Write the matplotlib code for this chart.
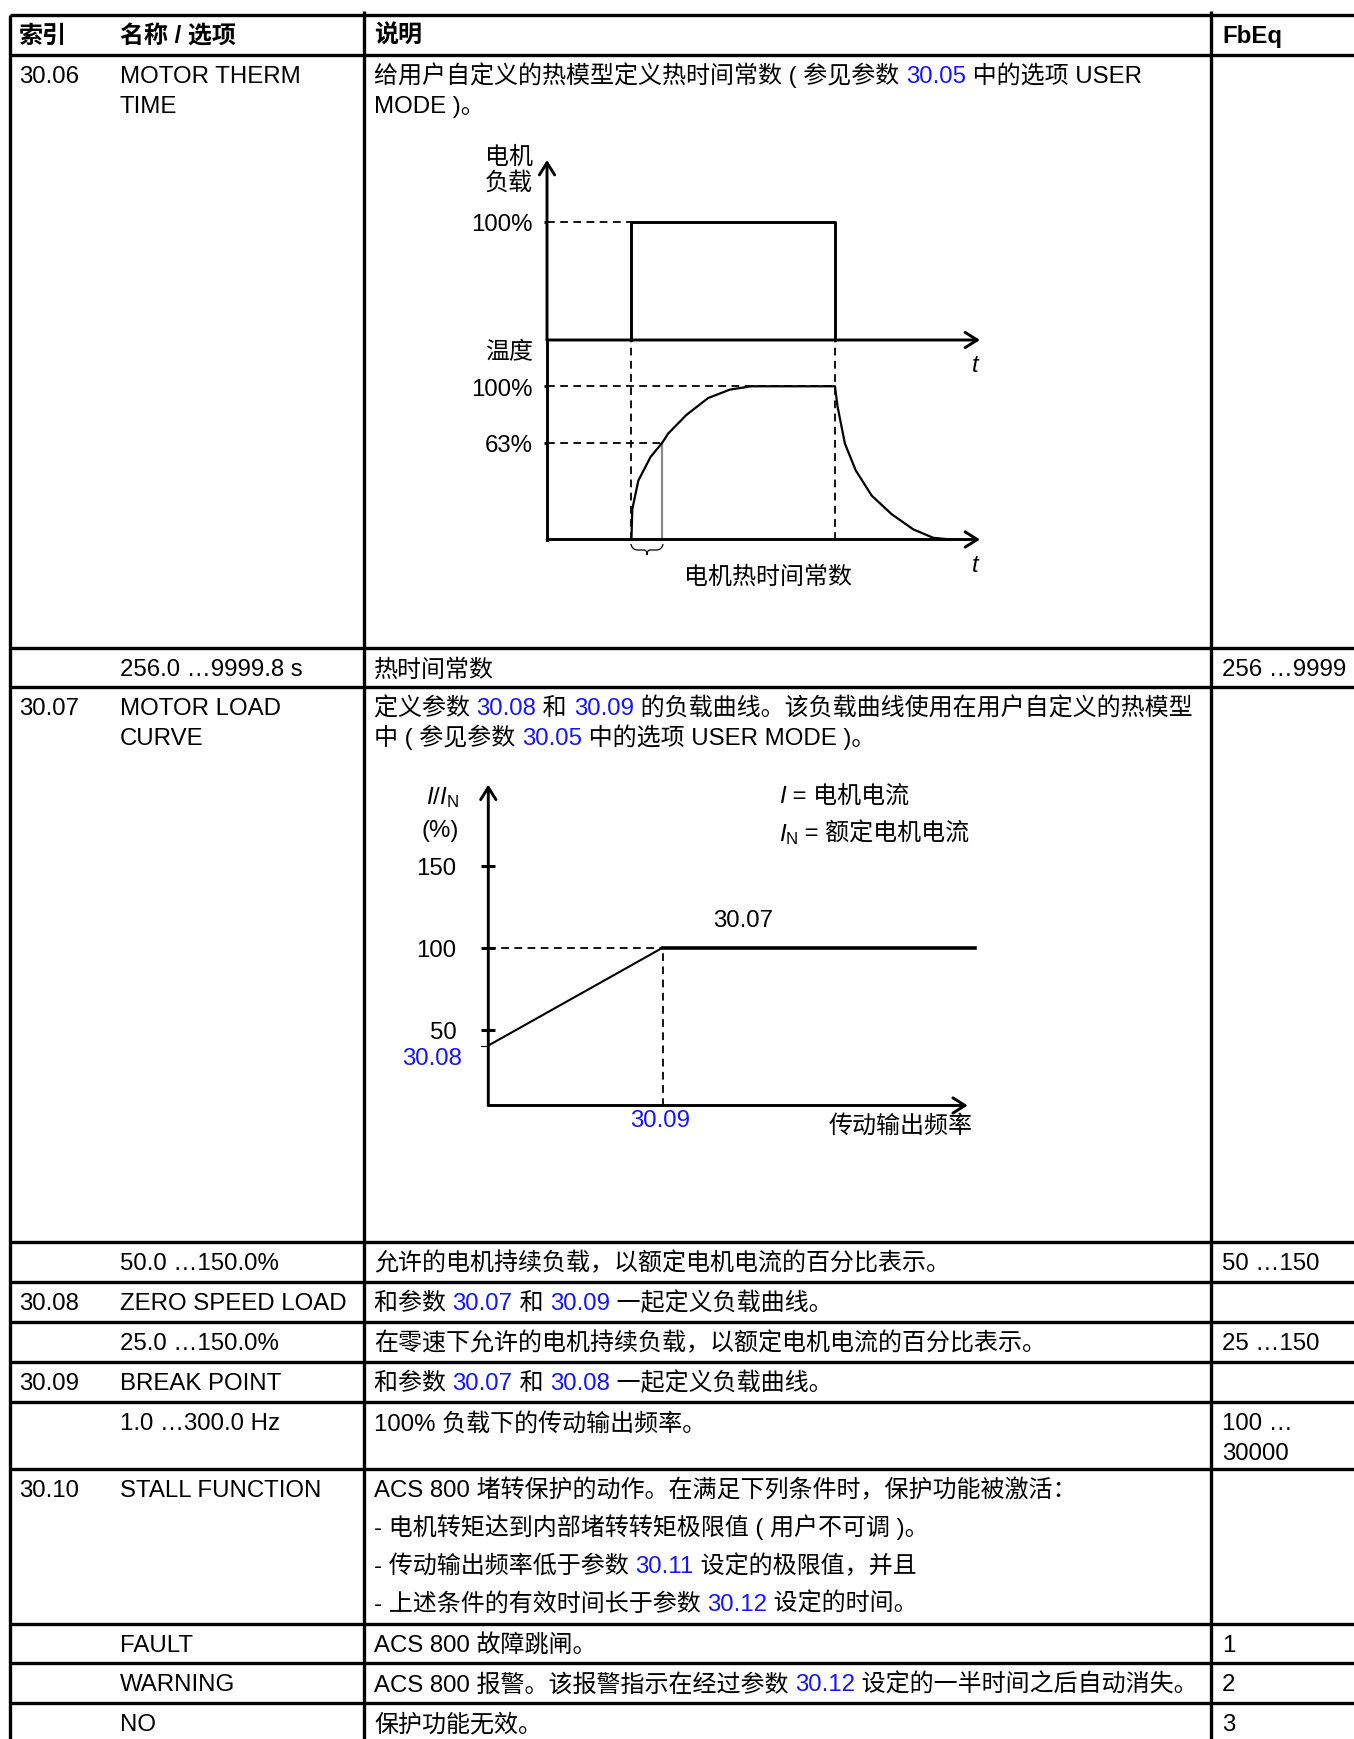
import re

import matplotlib
matplotlib.use('Agg')
import matplotlib.pyplot as plt
from matplotlib.patches import PathPatch
from matplotlib.path import Path

plt.rcParams['font.family'] = ['Liberation Sans', 'Noto Sans CJK SC', 'DejaVu Sans']
plt.rcParams['mathtext.fontset'] = 'custom'
plt.rcParams['mathtext.rm'] = 'Liberation Sans'
plt.rcParams['mathtext.it'] = 'Liberation Sans:italic'
plt.rcParams['mathtext.bf'] = 'Liberation Sans:bold'

W, H = 1354, 1740
FS = 17.3
BLUE = '#1414ff'

# ---- table content ----
header = ['索引', '名称 / 选项', '说明', 'FbEq']
index_col = ['30.06', '', '30.07', '', '30.08', '', '30.09', '', '30.10', '', '', '']
name_col = [
    ['MOTOR THERM', 'TIME'],
    ['256.0 …9999.8 s'],
    ['MOTOR LOAD', 'CURVE'],
    ['50.0 …150.0%'],
    ['ZERO SPEED LOAD'],
    ['25.0 …150.0%'],
    ['BREAK POINT'],
    ['1.0 …300.0 Hz'],
    ['STALL FUNCTION'],
    ['FAULT'],
    ['WARNING'],
    ['NO'],
]
# parts in {} are parameter references, drawn in blue
desc_col = [
    ['给用户自定义的热模型定义热时间常数 ( 参见参数 {30.05} 中的选项 USER', 'MODE )。'],
    ['热时间常数'],
    ['定义参数 {30.08} 和 {30.09} 的负载曲线。该负载曲线使用在用户自定义的热模型',
     '中 ( 参见参数 {30.05} 中的选项 USER MODE )。'],
    ['允许的电机持续负载，以额定电机电流的百分比表示。'],
    ['和参数 {30.07} 和 {30.09} 一起定义负载曲线。'],
    ['在零速下允许的电机持续负载，以额定电机电流的百分比表示。'],
    ['和参数 {30.07} 和 {30.08} 一起定义负载曲线。'],
    ['100% 负载下的传动输出频率。'],
    ['ACS 800 堵转保护的动作。在满足下列条件时，保护功能被激活：',
     '- 电机转矩达到内部堵转转矩极限值 ( 用户不可调 )。',
     '- 传动输出频率低于参数 {30.11} 设定的极限值，并且',
     '- 上述条件的有效时间长于参数 {30.12} 设定的时间。'],
    ['ACS 800 故障跳闸。'],
    ['ACS 800 报警。该报警指示在经过参数 {30.12} 设定的一半时间之后自动消失。'],
    ['保护功能无效。'],
]
fbeq_col = [[], ['256 …9999'], [], ['50 …150'], [], ['25 …150'], [],
            ['100 …', '30000'], [], ['1'], ['2'], ['3']]

# ---- diagram 1: motor load step and temperature response ----
load_t = [19.5, 19.5, 66.5, 66.5]
load_pct = [0, 100, 100, 0]
temp_t = [19.5, 19.7, 21.1, 23.9, 26.6, 28.0, 32.2, 37.2, 42.2, 47.2, 66.5,
          67.1, 68.8, 71.3, 75.0, 79.6, 84.6, 89.2, 93.3]
temp_pct = [0, 19.8, 38.5, 53.8, 63.1, 69.2, 81.3, 92.3, 97.8, 100, 100,
            86.8, 62.6, 45.1, 28.6, 16.5, 6.6, 1.1, 0]
tau_t = 26.6
tau_pct = 63

# ---- diagram 2: motor load curve ----
freq = [0, 50, 139.8]
curve_pct = [40.5, 100, 100]
curve_ticks = [50, 100, 150]

# ---- layout (pixels) ----
row_edges = [55.5, 649, 688, 1243, 1283, 1323, 1363, 1403, 1470, 1625, 1664, 1704]
hlines_y = [15.5] + row_edges
col_x = [19, 120, 374, 1222]
BASE_OFF = 27.5
LINE = 30
desc_gap = [30, 30, 30, 30, 30, 30, 30, 30, 37.7, 30, 30, 30]

fig = plt.figure(figsize=(W / 100, H / 100), dpi=100)
ax = fig.add_axes([0, 0, 1, 1])
ax.set_xlim(0, W)
ax.set_ylim(H, 0)
ax.axis('off')
renderer = fig.canvas.get_renderer()


def text_width(s, **kw):
    a = ax.text(0, 0, '|' + s + '|', fontsize=FS, **kw)
    b = ax.text(0, 0, '||', fontsize=FS, **kw)
    w = a.get_window_extent(renderer).width - b.get_window_extent(renderer).width
    a.remove()
    b.remove()
    return w


def rich_line(x, y, line):
    parts = re.split(r'\{(.*?)\}', line)
    for i, part in enumerate(parts):
        if not part:
            continue
        color = BLUE if i % 2 else 'black'
        ax.text(x, y, part, fontsize=FS, color=color, ha='left', va='baseline')
        x += text_width(part)


# table grid
ax.hlines(hlines_y, 10, W, color='black', lw=2.4)
ax.vlines([10], 15.5, H, color='black', lw=2.4)
ax.vlines([364, 1211], 12, H, color='black', lw=2.4)

for x, s in zip(col_x, header):
    ax.text(x, 43, s, fontsize=FS, fontweight='bold', va='baseline')

for r in range(len(name_col)):
    base = row_edges[r] + BASE_OFF
    if index_col[r]:
        ax.text(col_x[0], base, index_col[r], fontsize=FS, va='baseline')
    for k, s in enumerate(name_col[r]):
        ax.text(col_x[1], base + k * LINE, s, fontsize=FS, va='baseline')
    for k, s in enumerate(desc_col[r]):
        rich_line(col_x[2], base + k * desc_gap[r], s)
    for k, s in enumerate(fbeq_col[r]):
        ax.text(col_x[3], base + k * LINE, s, fontsize=FS, va='baseline')


def px_axes(left, top, right, bottom):
    a = fig.add_axes([left / W, 1 - bottom / H, (right - left) / W, (bottom - top) / H])
    a.patch.set_visible(False)
    for s in a.spines.values():
        s.set_visible(False)
    a.set_xticks([])
    return a


ARROW = dict(arrowstyle='->,head_length=0.35,head_width=0.22', lw=2.1, color='black',
             mutation_scale=25, shrinkA=0, shrinkB=0)
DASH = dict(color='black', lw=1.3, linestyle=(0, (4.3, 3.0)), clip_on=False)


def arrow(a, start, end):
    a.annotate('', xy=end, xytext=start, arrowprops=ARROW, annotation_clip=False)


# diagram 1, upper panel (load)
ax_load = px_axes(547, 161, 993, 341)
ax_load.set_xlim(0, 103)
ax_load.set_ylim(0, 152.5)
arrow(ax_load, (0, 0), (0, 152.5))
arrow(ax_load, (0, 0), (100, 0))
ax_load.plot(load_t, load_pct, color='black', lw=2.1, clip_on=False)
ax_load.plot([0, load_t[1]], [load_pct[1], load_pct[1]], **DASH)
ax_load.set_yticks([100])
ax_load.set_yticklabels(['100%'], fontsize=FS)
ax_load.tick_params(axis='y', direction='out', length=2, width=2, pad=8)

# diagram 1, lower panel (temperature)
ax_temp = px_axes(547, 341, 993, 540.5)
ax_temp.set_xlim(0, 103)
ax_temp.set_ylim(0, 130.2)
ax_temp.plot([0, 0], [0, 130.2], color='black', lw=2.1, clip_on=False)
arrow(ax_temp, (0, 0), (100, 0))
for t in (load_t[0], load_t[2]):
    ax_temp.plot([t, t], [0, 130.2], **DASH)
ax_temp.plot([0, load_t[2]], [100, 100], **DASH)
ax_temp.plot([0, tau_t], [tau_pct, tau_pct], **DASH)
ax_temp.plot([tau_t, tau_t], [0, tau_pct], color='#8a8a8a', lw=1.6, clip_on=False)
ax_temp.plot(temp_t, temp_pct, color='black', lw=1.6, clip_on=False)
ax_temp.set_yticks([tau_pct, 100])
ax_temp.set_yticklabels(['63%', '100%'], fontsize=FS)
ax_temp.tick_params(axis='y', direction='out', length=2, width=2, pad=8)

ax.text(533, 157.5, '电机', fontsize=FS, style='italic', ha='right', va='center')
ax.text(533, 183, '负载', fontsize=FS, style='italic', ha='right', va='center')
ax.text(533, 353, '温度', fontsize=FS, style='italic', ha='right', va='center')
ax.text(975, 365, 't', fontsize=FS, style='italic', ha='center', va='center')
ax.text(975, 566, 't', fontsize=FS, style='italic', ha='center', va='center')
ax.text(768, 578, '电机热时间常数', fontsize=FS, ha='center', va='center')

brace = Path(
    [(631, 545), (632, 551), (638, 551), (644, 551), (647, 551), (647, 556),
     (647, 551), (650, 551), (656, 551), (662, 551), (663, 545)],
    [Path.MOVETO, Path.CURVE3, Path.CURVE3, Path.LINETO, Path.CURVE3, Path.CURVE3,
     Path.CURVE3, Path.CURVE3, Path.LINETO, Path.CURVE3, Path.CURVE3])
ax.add_patch(PathPatch(brace, facecolor='none', edgecolor='black', lw=0.9))

# diagram 2
ax_curve = px_axes(488.3, 785.7, 980.3, 1106.5)
ax_curve.set_xlim(0, 141.2)
ax_curve.set_ylim(4, 199.3)
arrow(ax_curve, (0, 4), (0, 199.3))
arrow(ax_curve, (0, 4), (137.6, 4))
ax_curve.plot(freq[:2], curve_pct[:2], color='black', lw=1.5, clip_on=False)
ax_curve.plot(freq[1:], curve_pct[1:], color='black', lw=2.6, clip_on=False)
ax_curve.plot([0, freq[1]], [curve_pct[1], curve_pct[1]], **DASH)
ax_curve.plot([freq[1], freq[1]], [4, curve_pct[1]], **DASH)
ax_curve.plot([-2.2, 0], [curve_pct[0], curve_pct[0]], color='black', lw=0.8, clip_on=False)
ax_curve.set_yticks(curve_ticks)
ax_curve.set_yticklabels([str(v) for v in curve_ticks], fontsize=FS)
ax_curve.tick_params(axis='y', direction='inout', length=10, width=2.2, pad=18)

ax.text(459, 798, r'$I/I_{\rm N}$', fontsize=FS, ha='right', va='center')
ax.text(440, 831.5, '(%)', fontsize=FS, ha='center', va='center')
ax.text(462, 1059, '30.08', fontsize=FS, color=BLUE, ha='right', va='center')
ax.text(660, 1121, '30.09', fontsize=FS, color=BLUE, ha='center', va='center')
ax.text(743, 921, '30.07', fontsize=FS, ha='center', va='center')
ax.text(973, 1126, '传动输出频率', fontsize=FS, style='italic', ha='right', va='center')

# legend of symbols: italic symbol followed by plain Chinese text
ax.text(779, 803, 'I', fontsize=FS, style='italic', ha='left', va='baseline')
ax.text(779 + text_width('I', style='italic'), 803, ' = 电机电流', fontsize=FS,
        ha='left', va='baseline')
ax.text(779, 841, r'$I_{\rm N}$', fontsize=FS, ha='left', va='baseline')
ax.text(779 + text_width(r'$I_{\rm N}$'), 841, ' = 额定电机电流', fontsize=FS,
        ha='left', va='baseline')

fig.savefig('out.png', dpi=100)
